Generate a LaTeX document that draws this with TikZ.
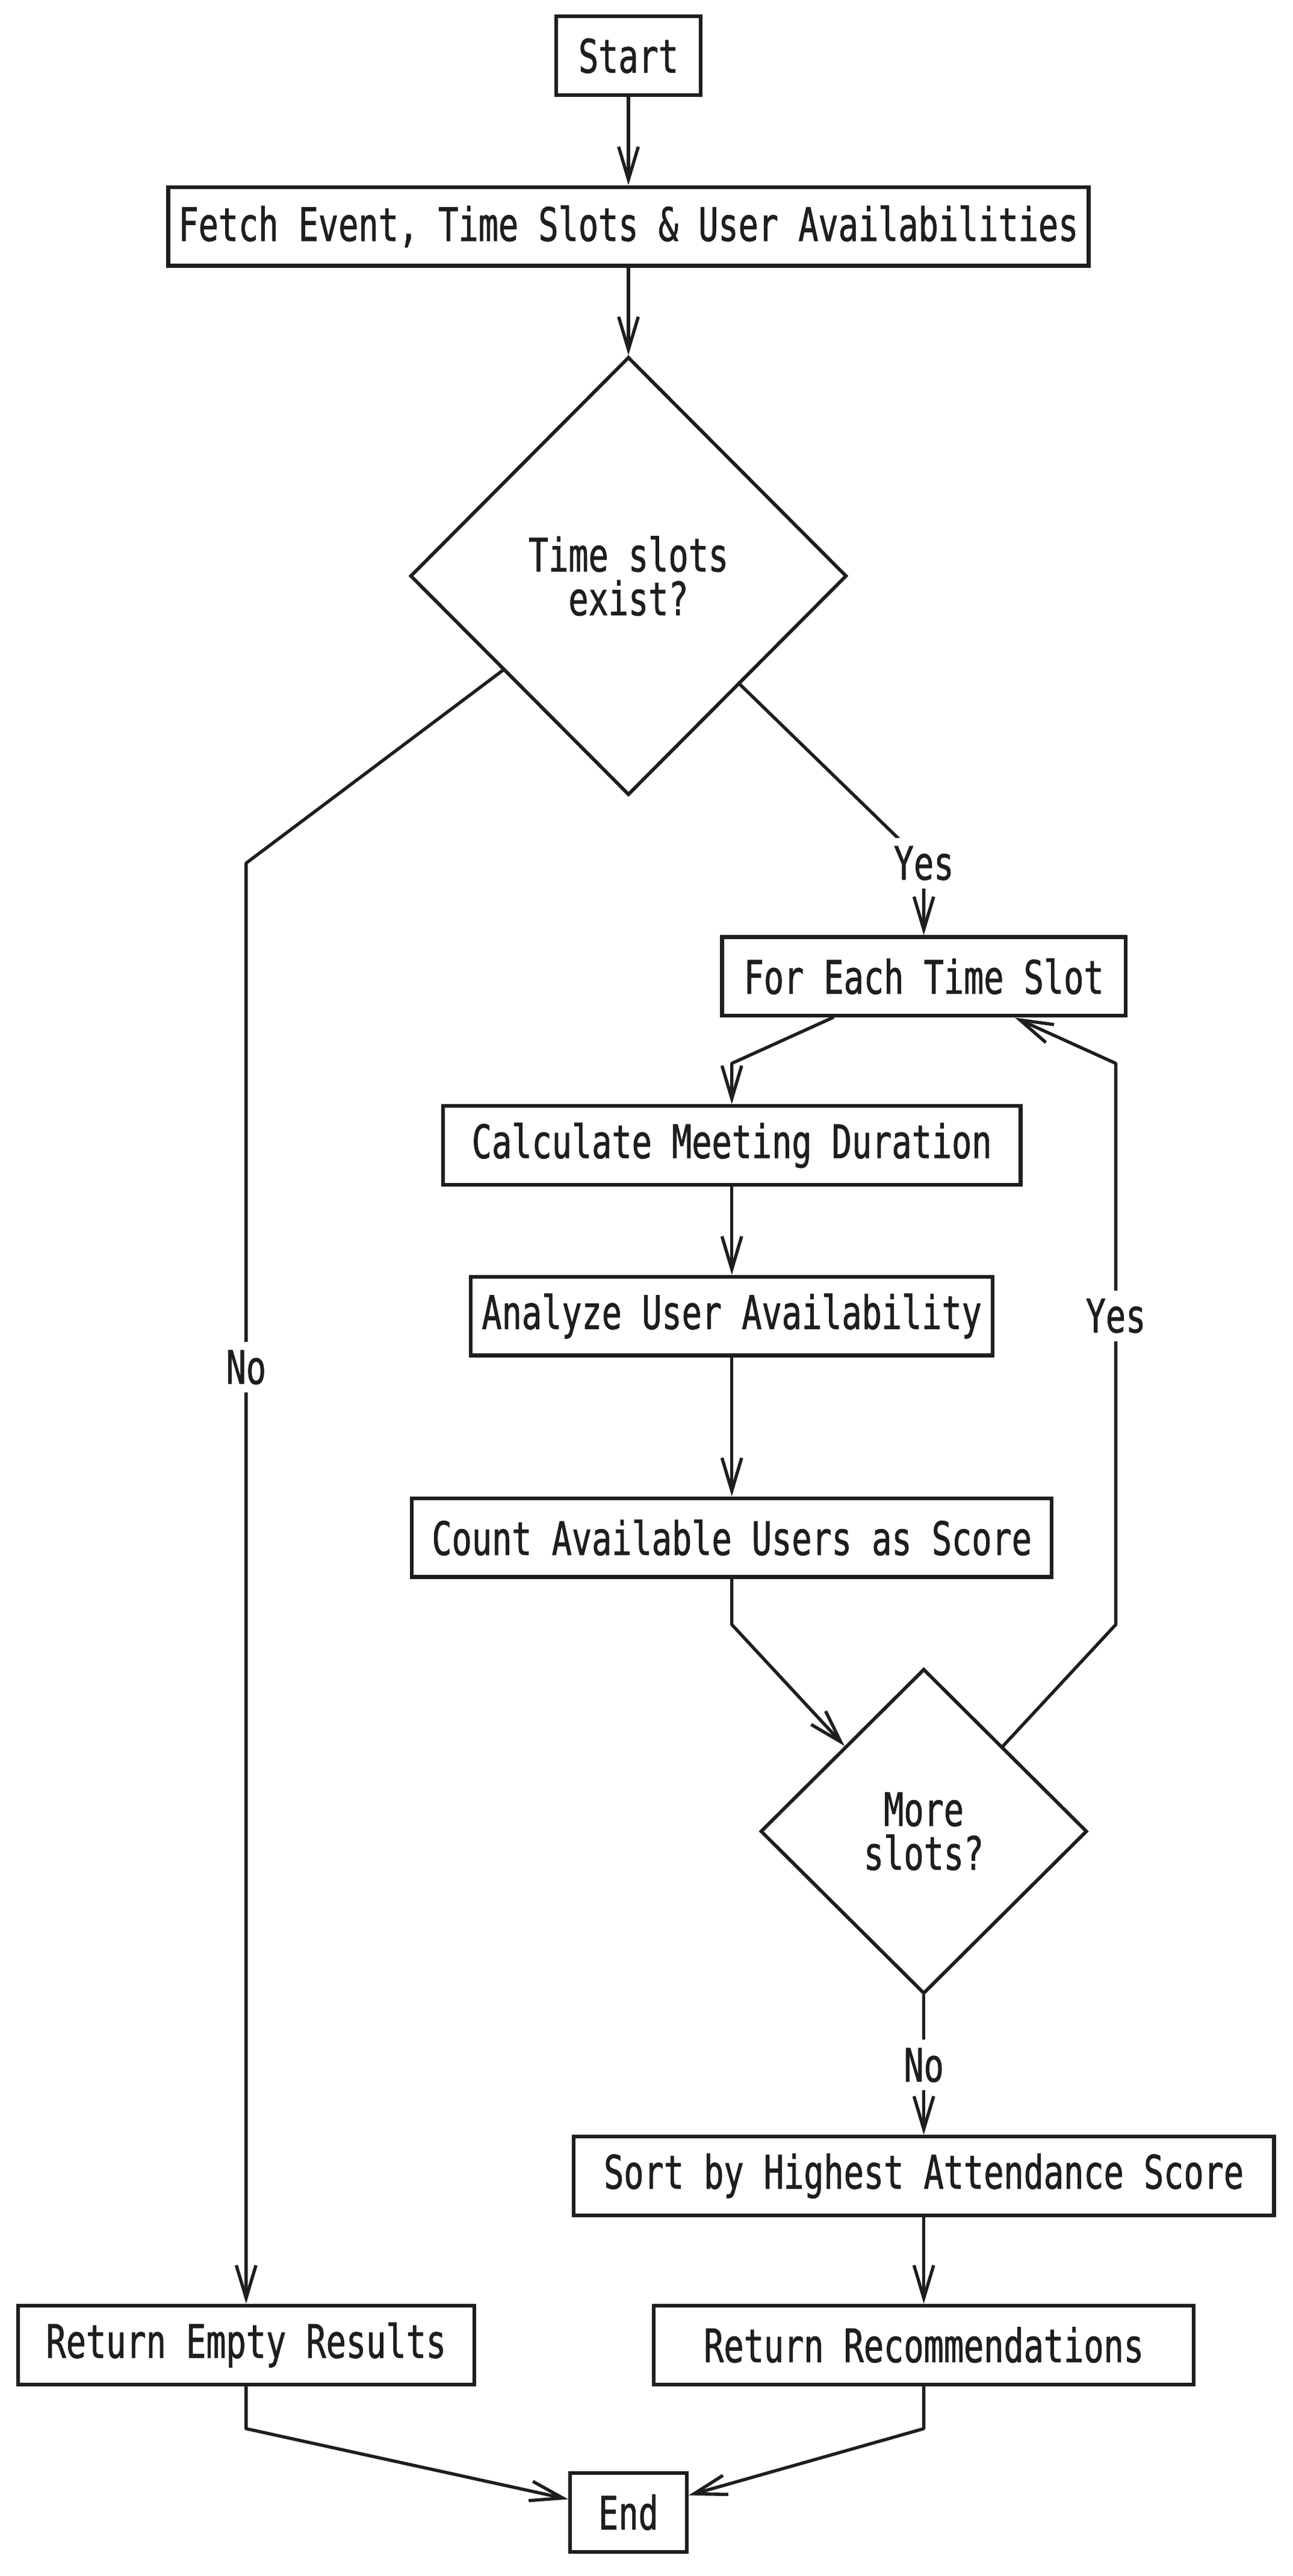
\documentclass[tikz,border=0pt]{standalone}
\usepackage{fontspec}
\usepackage{tikz}
\usetikzlibrary{shapes.geometric,arrows.meta}
\newfontfamily\flowfont[FakeStretch=0.72, FakeBold=1]{DejaVu Sans Mono}
\definecolor{ink}{HTML}{1E1E1E}
\tikzset{
  box/.style={draw=ink, line width=3.3pt, rectangle, minimum height=24mm, inner sep=0pt,
    text=ink, font=\flowfont\fontsize{40}{38}\selectfont},
  decision/.style={draw=ink, line width=3pt, diamond, aspect=1, inner sep=0pt, align=center,
    text=ink, font=\flowfont\fontsize{40}{38}\selectfont},
  flow/.style={draw=ink, line width=2.8pt, line cap=round, line join=round,
    -{Straight Barb[length=10mm, width=6mm]}},
  edgetext/.style={fill=white, text=ink, inner sep=2.5mm, font=\flowfont\fontsize{40}{38}\selectfont}
}

\begin{document}
\begin{tikzpicture}[x=0.5mm, y=-0.5mm]
  \useasboundingbox (0,0) rectangle (788,1569.8);

  % Steps
  \node[box, minimum width=44mm] (start) at (383,34) {Start};
  \node[box, minimum width=280.5mm] (fetch) at (383,138) {Fetch Event, Time Slots \& User Availabilities};
  \node[decision, minimum width=133mm, minimum height=133.5mm] (slots) at (383,351) {Time slots\\exist?};
  \node[box, minimum width=123mm] (each) at (563,595) {For Each Time Slot};
  \node[box, minimum width=176mm] (duration) at (446,698) {Calculate Meeting Duration};
  \node[box, minimum width=159mm] (analyze) at (446,802) {Analyze User Availability};
  \node[box, minimum width=195mm] (score) at (446,937) {Count Available Users as Score};
  \node[decision, minimum width=99.5mm, minimum height=99mm] (more) at (563,1116) {More\\slots?};
  \node[box, minimum width=213.5mm] (sort) at (563,1326) {Sort by Highest Attendance Score};
  \node[box, minimum width=164.5mm] (recs) at (563,1429) {Return Recommendations};
  \node[box, minimum width=139mm] (empty) at (150,1429) {Return Empty Results};
  \node[box, minimum width=35.5mm] (end) at (383,1531) {End};

  % Bend points
  \coordinate (nobend) at (150,526);
  \coordinate (yesbend) at (563,526);
  \coordinate (durin) at (446,648);
  \coordinate (scoreout) at (446,990);
  \coordinate (loopa) at (680,990);
  \coordinate (loopb) at (680,648);
  \coordinate (emptyout) at (150,1480);
  \coordinate (recsout) at (563,1480);

  % Connectors
  \draw[flow] (start) -- (fetch);
  \draw[flow] (fetch) -- (slots);
  \draw[flow] (slots) -- (nobend) -- node[edgetext, pos=0.35] {No} (empty);
  \draw[flow] (slots) -- (yesbend) node[edgetext] {Yes} -- (each);
  \draw[flow] (each) -- (durin) -- (duration);
  \draw[flow] (duration) -- (analyze);
  \draw[flow] (analyze) -- (score);
  \draw[flow] (score) -- (scoreout) -- (more);
  \draw[flow] (more) -- (loopa) -- node[edgetext, pos=0.55] {Yes} (loopb) -- (each);
  \draw[flow] (more) -- node[edgetext] {No} (sort);
  \draw[flow] (sort) -- (recs);
  \draw[flow] (empty) -- (emptyout) -- (end);
  \draw[flow] (recs) -- (recsout) -- (end);
\end{tikzpicture}
\end{document}
